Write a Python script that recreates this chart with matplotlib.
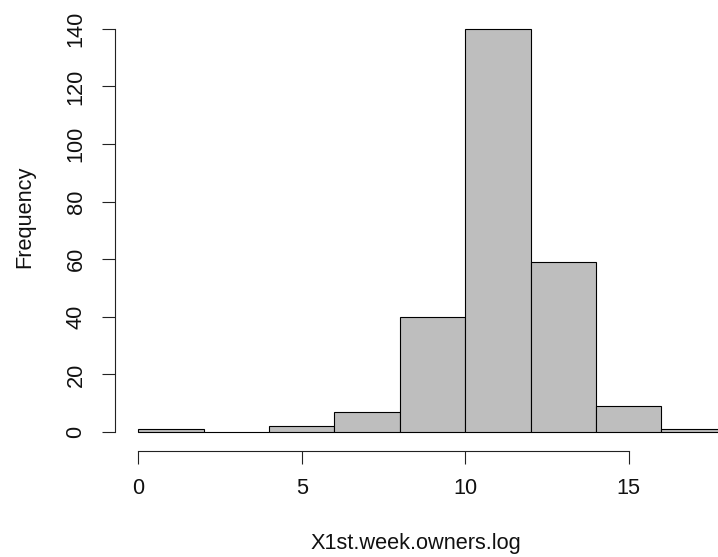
import numpy as np
import matplotlib
matplotlib.use("Agg")
import matplotlib.pyplot as plt

# =============================================================================
# DATA
# =============================================================================
bin_left = np.array([0, 2, 4, 6, 8, 10, 12, 14, 16])
bin_width = 2
counts = np.array([1, 0, 2, 7, 40, 140, 59, 9, 1])

x_ticks = [0, 5, 10, 15]
y_ticks = [0, 20, 40, 60, 80, 100, 120, 140]
x_label = "X1st.week.owners.log"
y_label = "Frequency"

# =============================================================================
# PLOT
# =============================================================================
plt.rcParams['font.family'] = ['Liberation Sans', 'DejaVu Sans']
fs = 15.7

W, H = 718, 557
f = plt.figure(figsize=(W / 100, H / 100), dpi=100)
ax = f.add_axes([0, 0, 1, 1])

# pixel mapping
px_x0, px_per_x = 138.2, 32.7
px_y0, px_per_y = 432.0, 2.88
ax.set_xlim(-px_x0 / px_per_x, (W - px_x0) / px_per_x)
ax.set_ylim(-(H - px_y0) / px_per_y, px_y0 / px_per_y)

ax.bar(bin_left, counts, width=bin_width, align='edge',
       color='#BEBEBE', edgecolor='black', linewidth=0.8)

for s in ['top', 'right']:
    ax.spines[s].set_visible(False)
ax.spines['left'].set_position(('data', (115 - px_x0) / px_per_x))
ax.spines['bottom'].set_position(('data', (px_y0 - 451) / px_per_y))
ax.spines['left'].set_bounds(y_ticks[0], y_ticks[-1])
ax.spines['bottom'].set_bounds(x_ticks[0], x_ticks[-1])
for s in ['left', 'bottom']:
    ax.spines[s].set_linewidth(0.8)
    ax.spines[s].set_color('#222222')

ax.set_xticks(x_ticks)
ax.set_yticks(y_ticks)
ax.tick_params(axis='both', direction='out', length=9.5, width=0.8,
               color='#222222', labelsize=fs, labelcolor='#111111')
ax.tick_params(axis='x', pad=10)
ax.tick_params(axis='y', pad=11)
for lab in ax.get_yticklabels():
    lab.set_rotation(90)
    lab.set_va('center')

ax.set_xlabel(x_label, fontsize=fs, color='#111111')
ax.xaxis.set_label_coords(416 / W, 1 - 543 / H)
ax.xaxis.label.set_va('center')
ax.set_ylabel(y_label, fontsize=fs, color='#111111')
ax.yaxis.set_label_coords(25 / W, 1 - 217 / H)
ax.yaxis.label.set_va('center')

ax.patch.set_visible(False)
plt.savefig('out.png', dpi=100)
plt.close()
